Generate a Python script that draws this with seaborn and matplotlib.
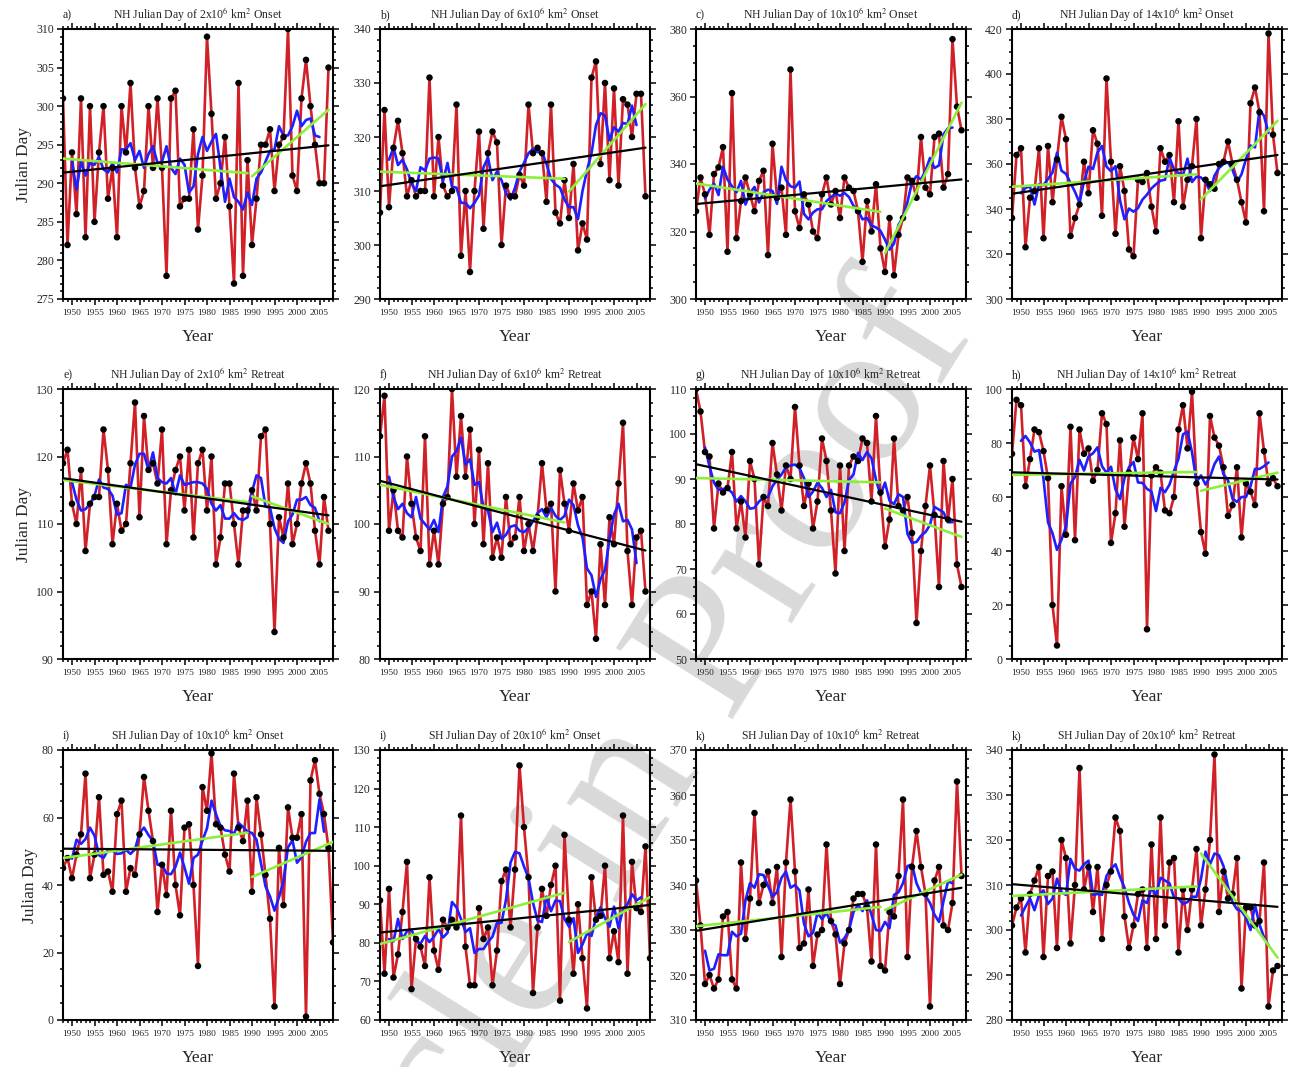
import numpy as np
import pandas as pd
import matplotlib
matplotlib.use("Agg")
import matplotlib.pyplot as plt
import seaborn as sns
from matplotlib.ticker import MultipleLocator

# years on the x axis (two SH onset panels run one year longer)
years = list(range(1948, 2008))
years_long = list(range(1948, 2009))

# NH onset (julian day)
nh_2_onset = [301, 282, 294, 286, 301, 283, 300, 285, 294, 300,
              288, 292, 283, 300, 294, 303, 292, 287, 289, 300,
              292, 301, 292, 278, 301, 302, 287, 288, 288, 297,
              284, 291, 309, 299, 288, 290, 296, 287, 277, 303,
              278, 293, 282, 288, 295, 295, 297, 289, 295, 296,
              310, 291, 289, 301, 306, 300, 295, 290, 290, 305]
nh_6_onset = [306, 325, 307, 318, 323, 317, 309, 312, 309, 310,
              310, 331, 309, 320, 311, 309, 310, 326, 298, 310,
              295, 310, 321, 303, 317, 321, 319, 300, 311, 309,
              309, 313, 311, 326, 317, 318, 317, 308, 326, 306,
              304, 312, 305, 315, 299, 304, 301, 331, 334, 315,
              330, 312, 329, 311, 327, 326, 320, 328, 328, 309]
nh_10_onset = [326, 336, 331, 319, 337, 339, 345, 314, 361, 318,
               329, 336, 331, 326, 335, 338, 313, 346, 330, 333,
               319, 368, 326, 321, 331, 328, 320, 318, 331, 336,
               328, 332, 324, 336, 333, 332, 326, 311, 329, 320,
               334, 315, 308, 324, 307, 319, 324, 336, 335, 330,
               348, 333, 331, 348, 349, 333, 337, 377, 357, 350]
nh_14_onset = [336, 364, 367, 323, 345, 348, 367, 327, 368, 343,
               362, 381, 371, 328, 336, 342, 361, 347, 375, 369,
               337, 398, 361, 329, 359, 348, 322, 319, 353, 352,
               356, 341, 330, 367, 361, 364, 343, 379, 341, 353,
               359, 380, 327, 353, 351, 349, 360, 361, 370, 360,
               353, 343, 334, 387, 394, 383, 339, 418, 373, 356]

# NH retreat
nh_2_retreat = [119, 121, 113, 110, 118, 106, 113, 114, 114, 124,
                118, 107, 113, 109, 110, 119, 128, 111, 126, 118,
                119, 116, 124, 107, 115, 118, 120, 112, 121, 108,
                119, 121, 112, 120, 104, 108, 116, 116, 110, 104,
                112, 112, 115, 112, 123, 124, 110, 94, 111, 108,
                116, 107, 110, 116, 119, 116, 109, 104, 114, 109]
nh_6_retreat = [113, 119, 99, 105, 99, 98, 110, 103, 98, 96,
                113, 94, 99, 94, 103, 104, 120, 107, 116, 107,
                114, 100, 111, 97, 109, 95, 98, 95, 104, 97,
                98, 104, 96, 100, 96, 101, 109, 102, 103, 90,
                108, 103, 99, 106, 102, 104, 88, 90, 83, 97,
                88, 101, 97, 106, 115, 96, 88, 98, 99, 90]
nh_10_retreat = [110, 105, 96, 95, 79, 89, 87, 88, 96, 79,
                 85, 77, 94, 90, 71, 86, 84, 98, 91, 83,
                 93, 90, 106, 93, 84, 89, 79, 85, 99, 94,
                 83, 69, 93, 74, 93, 95, 94, 99, 98, 85,
                 104, 87, 75, 81, 99, 84, 83, 86, 78, 58,
                 74, 84, 93, 82, 66, 94, 81, 90, 71, 66]
nh_14_retreat = [76, 96, 94, 64, 74, 85, 84, 77, 67, 20,
                 5, 64, 46, 86, 44, 85, 76, 78, 66, 70,
                 91, 87, 43, 54, 81, 49, 69, 82, 74, 91,
                 11, 68, 71, 69, 55, 54, 60, 85, 94, 78,
                 99, 65, 47, 39, 90, 82, 79, 71, 53, 57,
                 71, 45, 65, 62, 57, 91, 77, 65, 67, 64]

# SH onset / retreat
sh_10_onset = [45, 48, 42, 49, 55, 73, 42, 49, 66, 43,
               44, 38, 61, 65, 38, 45, 43, 55, 72, 62,
               53, 32, 46, 37, 62, 40, 31, 57, 58, 40,
               16, 69, 62, 79, 58, 57, 49, 44, 73, 57,
               53, 65, 38, 66, 55, 43, 30, 4, 51, 34,
               63, 54, 54, 61, 1, 71, 77, 67, 61, 51,
               23]
sh_20_onset = [91, 72, 94, 71, 77, 88, 101, 68, 81, 79,
               74, 97, 78, 73, 86, 84, 86, 84, 113, 79,
               69, 69, 89, 81, 84, 69, 78, 96, 99, 84,
               99, 126, 110, 97, 67, 84, 94, 87, 95, 100,
               65, 108, 86, 72, 90, 76, 63, 97, 86, 87,
               100, 76, 83, 75, 113, 72, 101, 89, 88, 105,
               76]
sh_10_retreat = [341, 331, 318, 320, 317, 319, 333, 334, 319, 317,
                 345, 328, 337, 356, 336, 340, 343, 336, 344, 324,
                 345, 359, 343, 326, 327, 339, 322, 329, 330, 349,
                 332, 329, 318, 327, 330, 337, 338, 338, 335, 323,
                 349, 322, 321, 334, 333, 342, 359, 324, 344, 352,
                 344, 338, 313, 341, 344, 331, 330, 336, 363, 342]
sh_20_retreat = [301, 305, 307, 295, 308, 311, 314, 294, 312, 313,
                 296, 320, 316, 297, 310, 336, 309, 314, 304, 314,
                 298, 310, 313, 325, 322, 303, 296, 301, 308, 309,
                 296, 319, 298, 325, 301, 315, 316, 295, 309, 300,
                 309, 318, 301, 309, 320, 339, 304, 313, 307, 308,
                 316, 287, 305, 305, 301, 302, 315, 283, 291, 292]

labels = ["a)", "b)", "c)", "d)", "e)", "f)", "g)", "h)", "i)", "i)", "k)", "k)"]
titles = ["NH Julian Day of 2x10$^6$ km$^2$ Onset",
          "NH Julian Day of 6x10$^6$ km$^2$ Onset",
          "NH Julian Day of 10x10$^6$ km$^2$ Onset",
          "NH Julian Day of 14x10$^6$ km$^2$ Onset",
          "NH Julian Day of 2x10$^6$ km$^2$ Retreat",
          "NH Julian Day of 6x10$^6$ km$^2$ Retreat",
          "NH Julian Day of 10x10$^6$ km$^2$ Retreat",
          "NH Julian Day of 14x10$^6$ km$^2$ Retreat",
          "SH Julian Day of 10x10$^6$ km$^2$ Onset",
          "SH Julian Day of 20x10$^6$ km$^2$ Onset",
          "SH Julian Day of 10x10$^6$ km$^2$ Retreat",
          "SH Julian Day of 20x10$^6$ km$^2$ Retreat"]
series = [nh_2_onset, nh_6_onset, nh_10_onset, nh_14_onset,
          nh_2_retreat, nh_6_retreat, nh_10_retreat, nh_14_retreat,
          sh_10_onset, sh_20_onset, sh_10_retreat, sh_20_retreat]
y_ranges = [(275, 310), (290, 340), (300, 380), (300, 420),
            (90, 130), (80, 120), (50, 110), (0, 100),
            (0, 80), (60, 130), (310, 370), (280, 340)]
y_steps = [5, 10, 20, 20, 10, 10, 10, 20, 20, 10, 10, 10]
# panel f shows no late-period trend line
late_trend = [True, True, True, True, True, False, True, True, True, True, True, True]

RED = "#cf2127"
BLUE = "#1f1fff"
GREEN = "#8cf03a"

sns.set_theme(style="ticks")
plt.rcParams["font.family"] = ["Liberation Serif", "DejaVu Serif"]
plt.rcParams["mathtext.fontset"] = "stix"

W, H = 1291, 1067
fig = plt.figure(figsize=(W / 100, H / 100), dpi=100)
fig.patch.set_facecolor("white")

# faint diagonal watermark behind the panels
fig.text(585 / W, 1 - 860 / H, "Article in Proof", rotation=58, fontsize=150,
         color="0.55", alpha=0.33, ha="center", va="center", zorder=-5)

col_left = [63, 380, 696, 1012]
row_top = [29, 389, 750]
size = 270

for i, vals in enumerate(series):
    r, c = divmod(i, 4)
    ax = fig.add_axes([col_left[c] / W, (H - row_top[r] - size) / H, size / W, size / H])
    ax.set_facecolor("none")

    yrs = years_long if len(vals) == len(years_long) else years
    df = pd.DataFrame({"year": yrs, "day": vals})
    df["smooth"] = df["day"].rolling(5, center=True).mean()

    sns.lineplot(data=df, x="year", y="day", color=RED, lw=1.9, ax=ax, zorder=2)
    sns.scatterplot(data=df, x="year", y="day", color="black", s=22,
                    edgecolor="none", ax=ax, zorder=4)
    sns.lineplot(data=df.dropna(), x="year", y="smooth", color=BLUE, lw=1.9, ax=ax, zorder=3)

    early = df[df["year"] <= 1989]
    late = df[df["year"] >= 1990]
    sns.regplot(data=early, x="year", y="day", scatter=False, ci=None, ax=ax,
                line_kws=dict(color=GREEN, lw=1.9, zorder=5))
    if late_trend[i]:
        sns.regplot(data=late, x="year", y="day", scatter=False, ci=None, ax=ax,
                    line_kws=dict(color=GREEN, lw=1.9, zorder=5))
    sns.regplot(data=df, x="year", y="day", scatter=False, ci=None, ax=ax,
                line_kws=dict(color="black", lw=1.6, zorder=6))

    ax.set_xlim(1948, 2008)
    ax.set_ylim(*y_ranges[i])
    ax.xaxis.set_major_locator(MultipleLocator(5))
    ax.xaxis.set_minor_locator(MultipleLocator(1))
    ax.set_xticks(range(1950, 2006, 5))
    step = y_steps[i]
    ax.yaxis.set_major_locator(MultipleLocator(step))
    ax.yaxis.set_minor_locator(MultipleLocator(step / 4 if step == 20 else step / 5))

    ax.tick_params(which="both", direction="out", top=True, right=True, width=1.1,
                   color="black")
    ax.tick_params(which="major", length=4.5)
    ax.tick_params(which="minor", length=2.5)
    ax.tick_params(axis="x", labelsize=6.8, pad=3)
    ax.tick_params(axis="y", labelsize=8.5, pad=2)
    for sp in ax.spines.values():
        sp.set_linewidth(1.5)
        sp.set_color("black")

    ax.set_title(titles[i], fontsize=8.5, pad=8)
    ax.set_title(labels[i], loc="left", fontsize=8.5, pad=8)
    ax.set_xlabel("Year", fontsize=12.5, labelpad=8)
    if c == 0:
        ax.set_ylabel("Julian Day", fontsize=12.5, labelpad=3)
    else:
        ax.set_ylabel("")

fig.savefig("out.png", dpi=100)
